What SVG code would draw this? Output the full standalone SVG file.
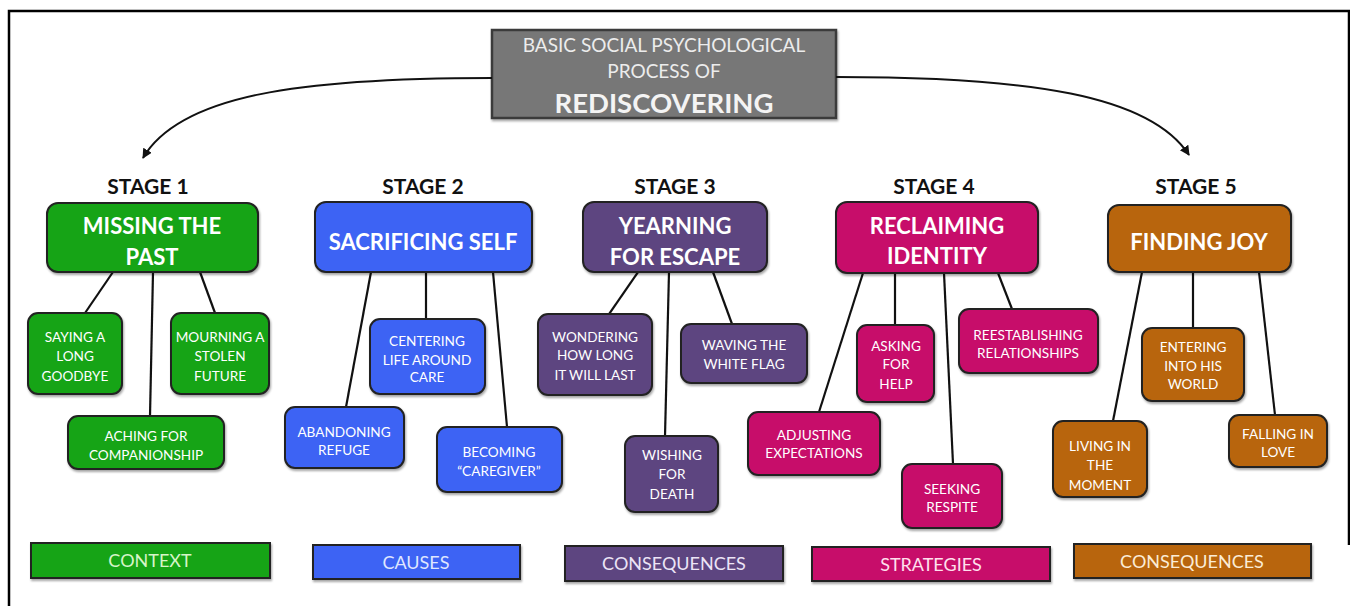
<svg xmlns="http://www.w3.org/2000/svg" width="1350" height="606" viewBox="0 0 1350 606">
<style>
text{font-family:Lato,"Open Sans","Liberation Sans",sans-serif;text-anchor:middle}
.stage{font-size:21px;font-weight:700;fill:#111}
.main{font-size:22px;font-weight:700;fill:#fff}
.sub{font-size:13.6px;font-weight:400;fill:#fff}
.leg{font-size:18px;font-weight:400}
.box{stroke:#222;stroke-width:2;filter:url(#sh)}
.g{fill:#16a416}.b{fill:#3c64f4}.p{fill:#5d4580}.m{fill:#c70f6b}.o{fill:#b8650a}
.conn line{stroke:#111;stroke-width:2.2}
.arrow{fill:none;stroke:#111;stroke-width:2}
</style>
<defs>
<filter id="sh" x="-10%" y="-10%" width="125%" height="130%">
<feDropShadow dx="1" dy="2" stdDeviation="1.2" flood-color="#000" flood-opacity="0.35"/>
</filter>
<marker id="ah" markerWidth="12" markerHeight="12" refX="9" refY="5" orient="auto" markerUnits="userSpaceOnUse">
<path d="M0,0 L10,5 L0,10 z" fill="#111"/>
</marker>
</defs>
<rect width="1350" height="606" fill="#fff"/>
<path d="M9,606 V11 H1349 V545" fill="none" stroke="#000" stroke-width="2.5"/>

<g id="title">
<rect x="492" y="30" width="344" height="88" fill="#777" stroke="#3a3a3a" stroke-width="2.5" filter="url(#sh)"/>
<text x="664" y="52" font-size="19" fill="#ececec">BASIC SOCIAL PSYCHOLOGICAL</text>
<text x="664" y="78" font-size="19" fill="#ececec">PROCESS OF</text>
<text x="664" y="113" font-size="27.5" font-weight="700" fill="#f4f4f4">REDISCOVERING</text>
</g>

<g id="connectors" class="conn">
<path class="arrow" d="M492,78 C300,78 180,95 143,158" marker-end="url(#ah)"/>
<path class="arrow" d="M836,77 C1030,77 1150,95 1189,155" marker-end="url(#ah)"/>
<line x1="113" y1="272" x2="85" y2="313"/>
<line x1="153" y1="272" x2="150" y2="416"/>
<line x1="200" y1="272" x2="215" y2="313"/>
<line x1="371" y1="272" x2="346" y2="407"/>
<line x1="426" y1="272" x2="426" y2="319"/>
<line x1="493" y1="272" x2="507" y2="427"/>
<line x1="638" y1="272" x2="609" y2="314"/>
<line x1="669" y1="272" x2="665" y2="436"/>
<line x1="713" y1="272" x2="732" y2="324"/>
<line x1="863" y1="273" x2="819" y2="412"/>
<line x1="895" y1="273" x2="895" y2="325"/>
<line x1="944" y1="273" x2="953" y2="464"/>
<line x1="998" y1="273" x2="1012" y2="309"/>
<line x1="1142" y1="272" x2="1113" y2="421"/>
<line x1="1193" y1="272" x2="1193" y2="328"/>
<line x1="1259" y1="272" x2="1275" y2="415"/>
</g>

<g id="stage1">
<text class="stage" x="148" y="194">STAGE 1</text>
<rect class="box g" x="47" y="203" width="211" height="69" rx="11"/>
<text class="main" x="152" y="234">MISSING THE</text>
<text class="main" x="152" y="265">PAST</text>
</g>
<g id="s1a"><rect class="box g" x="28" y="313" width="94" height="81" rx="10"/>
<text class="sub" x="75" y="342">SAYING A</text><text class="sub" x="75" y="361">LONG</text><text class="sub" x="75" y="381">GOODBYE</text></g>
<g id="s1b"><rect class="box g" x="171" y="313" width="98" height="81" rx="10"/>
<text class="sub" x="220" y="342">MOURNING A</text><text class="sub" x="220" y="361">STOLEN</text><text class="sub" x="220" y="381">FUTURE</text></g>
<g id="s1c"><rect class="box g" x="68" y="416" width="156" height="53" rx="10"/>
<text class="sub" x="146" y="441">ACHING FOR</text><text class="sub" x="146" y="460">COMPANIONSHIP</text></g>

<g id="stage2">
<text class="stage" x="423" y="194">STAGE 2</text>
<rect class="box b" x="315" y="202" width="217" height="70" rx="11"/>
<text class="main" x="423" y="250">SACRIFICING SELF</text>
</g>
<g id="s2a"><rect class="box b" x="370" y="319" width="115" height="75" rx="10"/>
<text class="sub" x="427" y="346">CENTERING</text><text class="sub" x="427" y="365">LIFE AROUND</text><text class="sub" x="427" y="382">CARE</text></g>
<g id="s2b"><rect class="box b" x="285" y="407" width="119" height="61" rx="10"/>
<text class="sub" x="344" y="437">ABANDONING</text><text class="sub" x="344" y="455">REFUGE</text></g>
<g id="s2c"><rect class="box b" x="437" y="427" width="125" height="65" rx="10"/>
<text class="sub" x="499" y="457">BECOMING</text><text class="sub" x="499" y="476">“CAREGIVER”</text></g>

<g id="stage3">
<text class="stage" x="675" y="194">STAGE 3</text>
<rect class="box p" x="583" y="202" width="184" height="70" rx="11"/>
<text class="main" x="675" y="234">YEARNING</text>
<text class="main" x="675" y="265">FOR ESCAPE</text>
</g>
<g id="s3a"><rect class="box p" x="538" y="314" width="114" height="81" rx="10"/>
<text class="sub" x="595" y="342">WONDERING</text><text class="sub" x="595" y="360">HOW LONG</text><text class="sub" x="595" y="380">IT WILL LAST</text></g>
<g id="s3b"><rect class="box p" x="681" y="324" width="126" height="59" rx="10"/>
<text class="sub" x="744" y="350">WAVING THE</text><text class="sub" x="744" y="369">WHITE FLAG</text></g>
<g id="s3c"><rect class="box p" x="625" y="436" width="93" height="76" rx="10"/>
<text class="sub" x="672" y="460">WISHING</text><text class="sub" x="672" y="479">FOR</text><text class="sub" x="672" y="499">DEATH</text></g>

<g id="stage4">
<text class="stage" x="934" y="194">STAGE 4</text>
<rect class="box m" x="836" y="202" width="202" height="71" rx="11"/>
<text class="main" x="937" y="234">RECLAIMING</text>
<text class="main" x="937" y="264">IDENTITY</text>
</g>
<g id="s4a"><rect class="box m" x="857" y="325" width="77" height="77" rx="10"/>
<text class="sub" x="896" y="351">ASKING</text><text class="sub" x="896" y="369">FOR</text><text class="sub" x="896" y="389">HELP</text></g>
<g id="s4b"><rect class="box m" x="959" y="309" width="139" height="64" rx="10"/>
<text class="sub" x="1028" y="340">REESTABLISHING</text><text class="sub" x="1028" y="358">RELATIONSHIPS</text></g>
<g id="s4c"><rect class="box m" x="748" y="412" width="132" height="63" rx="10"/>
<text class="sub" x="814" y="440">ADJUSTING</text><text class="sub" x="814" y="458">EXPECTATIONS</text></g>
<g id="s4d"><rect class="box m" x="902" y="464" width="100" height="64" rx="10"/>
<text class="sub" x="952" y="494">SEEKING</text><text class="sub" x="952" y="512">RESPITE</text></g>

<g id="stage5">
<text class="stage" x="1196" y="194">STAGE 5</text>
<rect class="box o" x="1108" y="205" width="183" height="67" rx="11"/>
<text class="main" x="1199" y="250">FINDING JOY</text>
</g>
<g id="s5a"><rect class="box o" x="1142" y="328" width="102" height="73" rx="10"/>
<text class="sub" x="1193" y="352">ENTERING</text><text class="sub" x="1193" y="371">INTO HIS</text><text class="sub" x="1193" y="389">WORLD</text></g>
<g id="s5b"><rect class="box o" x="1229" y="415" width="98" height="52" rx="10"/>
<text class="sub" x="1278" y="439">FALLING IN</text><text class="sub" x="1278" y="457">LOVE</text></g>
<g id="s5c"><rect class="box o" x="1053" y="421" width="94" height="76" rx="10"/>
<text class="sub" x="1100" y="451">LIVING IN</text><text class="sub" x="1100" y="470">THE</text><text class="sub" x="1100" y="490">MOMENT</text></g>

<g id="legend">
<rect class="box g" x="31" y="543" width="239" height="35"/>
<text class="leg" x="150" y="567" fill="#d6f5c8">CONTEXT</text>
<rect class="box b" x="313" y="545" width="207" height="34"/>
<text class="leg" x="416" y="569" fill="#dfe6ff">CAUSES</text>
<rect class="box p" x="565" y="546" width="218" height="35"/>
<text class="leg" x="674" y="570" fill="#ece4f6">CONSEQUENCES</text>
<rect class="box m" x="812" y="547" width="238" height="34"/>
<text class="leg" x="931" y="571" fill="#ffe0ee">STRATEGIES</text>
<rect class="box o" x="1074" y="544" width="237" height="34"/>
<text class="leg" x="1192" y="568" fill="#fbecd6">CONSEQUENCES</text>
</g>
</svg>
